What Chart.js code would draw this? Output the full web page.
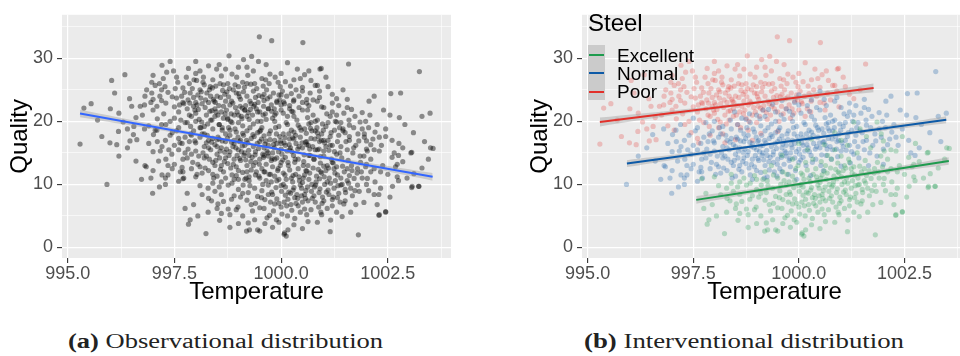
<!DOCTYPE html>
<html>
<head>
<meta charset="utf-8">
<script src="https://cdn.jsdelivr.net/npm/chart.js@4.4.1/dist/chart.umd.min.js"></script>
<style>
  html, body { margin: 0; padding: 0; background: #fff; }
  body { width: 960px; height: 356px; overflow: hidden; position: relative; font-family: "Liberation Sans", Arial, sans-serif; }
  .panel { position: absolute; top: 0; height: 310px; }
  #wrapA { left: 0; width: 470px; }
  #wrapB { left: 520px; width: 451px; }
  .leg { position: absolute; white-space: nowrap; color: #000; }
  .legTitle { left: 588px; top: 11px; font-size: 24px; line-height: 24px; }
  .legKeys { left: 588px; top: 45px; width: 17px; height: 55px; background: #cbcbcb; }
  .legKey { position: absolute; left: 1px; width: 15px; height: 2px; }
  .legLabel { left: 617px; font-size: 19px; line-height: 19px; }
  .caption { position: absolute; top: 331px; font-family: "Liberation Serif", "Times New Roman", serif; font-size: 20px; line-height: 20px; white-space: nowrap; transform-origin: left top; color: #222; }
</style>
</head>
<body>
<div class="panel" id="wrapA"><canvas id="chartA" width="470" height="310"></canvas></div>
<div class="panel" id="wrapB"><canvas id="chartB" width="451" height="310"></canvas></div>

<div class="leg legTitle">Steel</div>
<div class="leg legKeys">
  <div class="legKey" style="top:9px;background:#1E9B4E"></div>
  <div class="legKey" style="top:27px;background:#0D5AA7"></div>
  <div class="legKey" style="top:46px;background:#E2302A"></div>
</div>
<div class="leg legLabel" style="top:46px">Excellent</div>
<div class="leg legLabel" style="top:64px">Normal</div>
<div class="leg legLabel" style="top:82px">Poor</div>

<div class="caption" id="capA" data-w="315" style="left:68px"><b>(a)</b> Observational distribution</div>
<div class="caption" id="capB" data-w="320" style="left:584px"><b>(b)</b> Interventional distribution</div>

<script>
// Axis ticks
const xTicks = [995, 996.25, 997.5, 998.75, 1000, 1001.25, 1002.5, 1003.75];
const xTickLabels = { 995: '995.0', 997.5: '997.5', 1000: '1000.0', 1002.5: '1002.5' };
const yTicks = [0, 5, 10, 15, 20, 25, 30, 35];
const yTickLabels = { 0: '0', 10: '10', 20: '20', 30: '30' };

// Measurements (Temperature, Quality) by steel grade
const poorPts = [
  [995.29,16.4],[995.38,22.1],[995.55,22.8],[995.8,17.6],[995.99,16.6],[996.03,26.5],[996.15,16.3],[996.19,18.4],
  [996.3,19.9],[996.34,27.4],[996.4,18.8],[996.46,16.9],[996.5,22.4],[996.6,20.6],[996.62,17.1],[996.7,22.4],
  [996.81,24.0],[996.85,25.0],[996.9,19.3],[996.97,24.5],[996.97,26.2],[997.0,21.8],[997.05,25.7],[997.09,22.4],
  [997.1,20.4],[997.16,24.0],[997.2,23.3],[997.21,28.9],[997.24,26.8],[997.28,25.5],[997.3,22.9],[997.32,27.8],
  [997.45,18.2],[997.48,28.0],[997.52,25.2],[997.55,23.7],[997.55,27.0],[997.6,21.5],[997.6,17.3],[997.63,16.6],
  [997.67,24.0],[997.7,23.0],[997.7,25.3],[997.75,19.8],[997.8,22.0],[997.83,28.4],[997.85,26.0],[997.85,21.0],
  [997.87,24.5],[997.9,20.8],[997.9,17.8],[997.95,23.8],[997.95,22.4],[998.0,21.3],[998.0,23.0],[998.0,27.6],
  [998.02,26.5],[998.05,24.2],[998.1,19.0],[998.1,25.0],[998.14,19.9],[998.15,22.8],[998.18,27.0],[998.2,25.8],
  [998.2,18.0],[998.25,21.0],[998.26,24.5],[998.3,23.0],[998.3,28.8],[998.34,25.5],[998.35,20.2],[998.35,24.0],
  [998.4,26.6],[998.41,23.5],[998.45,22.0],[998.45,20.8],[998.49,28.3],[998.5,24.0],[998.5,17.1],[998.55,19.5],
  [998.57,26.0],[998.6,21.5],[998.6,27.2],[998.65,25.8],[998.65,22.4],[998.7,23.2],[998.73,24.7],[998.75,20.5],
  [998.75,26.0],[998.78,30.4],[998.8,22.6],[998.8,18.6],[998.85,27.5],[998.88,25.0],[998.9,21.0],[998.95,24.5],
  [998.96,27.0],[999.0,19.8],[999.0,25.5],[999.04,22.4],[999.05,23.5],[999.1,26.2],[999.1,18.1],[999.12,29.8],
  [999.15,21.8],[999.2,24.0],[999.2,26.0],[999.25,20.3],[999.3,22.8],[999.31,30.3],[999.35,28.0],[999.35,24.8],
  [999.4,23.8],[999.43,25.2],[999.47,29.5],[999.49,33.4],[999.5,21.5],[999.55,26.8],[999.59,22.4],[999.6,24.3],
  [999.66,25.0],[999.7,22.0],[999.74,27.5],[999.78,32.8],[999.8,20.5],[999.86,27.0],[999.9,23.2],[999.98,25.5],
  [1000.0,21.8],[1000.1,26.3],[1000.13,24.0],[1000.2,22.0],[1000.29,23.2],[1000.35,25.0],[1000.38,28.3],[1000.45,26.8],
  [1000.5,23.0],[1000.51,32.5],[1000.6,22.9],[1000.68,24.5],[1000.7,26.5],[1000.8,25.7],[1000.85,25.7],[1000.91,28.3],
  [1000.94,28.4],[1000.9,24.8],[1001.1,25.5],[1001.3,23.6],[1001.58,29.1],
  [996.2,21.3],[996.45,23.6],[996.55,19.2],[996.75,21.0],[996.95,23.0],[997.05,18.6],[997.15,26.0],[997.25,21.2],
  [997.35,24.6],[997.4,20.0],[997.5,22.3],[997.58,26.2],[997.65,20.2],[997.72,22.8],[997.78,27.0],[997.82,23.4],
  [997.88,19.2],[997.92,25.2],[997.98,21.8],[998.03,22.6],[998.08,20.3],[998.12,23.7],[998.17,26.2],[998.22,22.2],
  [998.28,19.6],[998.32,25.0],[998.38,21.7],[998.43,23.2],[998.47,25.6],[998.52,21.0],[998.58,23.8],[998.62,19.0],
  [998.68,24.3],[998.72,21.8],[998.77,23.9],[998.82,20.0],[998.87,22.9],[998.92,25.8],[998.97,21.5],[999.02,23.9],
  [999.07,20.8],[999.12,24.7],[999.17,22.5],[999.22,27.3],[999.27,23.2],[999.33,21.0],[999.38,26.0],[999.42,22.0],
  [999.48,24.1],[999.53,20.0],[999.58,25.6],[999.63,21.2],[999.68,23.6],[999.72,26.0],[999.77,22.6],[999.82,24.5],
  [999.88,21.3],[999.93,26.2],[999.97,23.4],[1000.03,24.8],[1000.08,22.8],[1000.15,20.8],[1000.22,25.6],[1000.28,21.5],
  [1000.42,24.0],[1000.55,27.4],[1000.62,21.8],[1000.75,23.4],[1000.95,22.3],[1001.05,27.0],[1001.2,24.3],[1001.45,25.0],
  [997.0,27.3],[997.4,29.5],[998.0,29.5],[998.55,29.0],[999.0,28.6],[999.65,29.0],[1000.15,29.3],[1000.65,28.0],
  [998.25,16.6],[998.9,17.0],[999.5,18.4],[997.3,19.5],[996.1,24.5],[995.7,20.2],[996.0,22.0],
  [997.62,22.6],[997.74,24.6],[997.86,22.9],[997.96,26.6],[998.06,21.9],[998.13,24.7],[998.23,23.4],[998.33,21.6],
  [998.39,25.3],[998.46,23.0],[998.54,22.5],[998.63,24.9],[998.69,21.2],[998.79,25.2],[998.84,23.2],[998.93,22.2],
  [999.01,24.4],[999.09,22.1],[999.14,25.4],[999.23,21.4],[999.29,25.9],[999.36,22.4],[999.46,23.0],[999.56,23.9],
  [999.64,26.6],[999.74,23.9],[999.84,22.0],[999.95,24.2],[1000.06,23.1],[1000.24,24.4],[997.45,23.9],[997.2,25.0],
  [997.0,23.5],[996.8,22.6],[998.1,28.0],[998.7,28.3],[999.2,28.6],[1000.3,26.6],[1000.5,25.4],[1000.0,27.6]
];

const normalPts = [
  [995.92,10.0],[996.54,17.9],[996.73,10.8],[996.81,13.0],[996.84,12.8],[996.99,8.6],[997.01,17.9],[997.09,18.6],
  [997.13,13.7],[997.17,15.3],[997.21,11.5],[997.21,16.0],[997.29,11.0],[997.29,10.0],[997.29,17.0],[997.35,11.5],
  [997.37,15.5],[997.44,14.8],[997.6,15.5],[997.64,12.0],[997.68,16.5],[997.68,12.7],[997.72,11.0],[997.3,14.0],
  [997.4,17.8],[997.5,13.2],[997.55,18.5],[997.6,10.5],[997.7,14.0],[997.75,17.5],[997.45,12.5],[997.0,15.2],
  [996.9,16.5],[997.5,20.5],[997.8,19.8],
  [997.8,14.2],[997.85,16.8],[997.9,12.5],[997.95,18.5],[998.0,15.3],[998.05,13.2],[998.1,17.5],[998.15,11.8],
  [998.2,16.0],[998.2,19.2],[997.9,14.8],[998.0,20.0],[998.1,12.8],
  [998.25,14.5],[998.3,17.0],[998.3,12.2],[998.35,15.5],[998.4,18.8],[998.4,13.5],[998.45,16.3],[998.5,11.3],
  [998.5,14.8],[998.55,19.5],[998.55,17.2],[998.6,13.0],[998.6,15.8],[998.65,20.5],[998.65,12.0],[998.7,16.8],
  [998.7,14.2],[998.7,18.0],
  [998.75,13.3],[998.8,15.2],[998.8,17.8],[998.85,11.5],[998.85,19.8],[998.9,14.0],[998.9,16.5],[998.95,12.8],
  [998.95,18.3],[999.0,15.5],[999.0,21.0],[999.05,13.8],[999.05,17.0],[999.1,11.9],[999.1,19.3],[999.15,15.0],
  [999.15,16.2],[999.2,13.0],[999.2,18.5],[999.2,20.8],
  [999.25,14.6],[999.3,17.3],[999.3,12.3],[999.35,16.0],[999.35,19.6],[999.4,15.2],[999.4,13.5],[999.45,18.2],
  [999.45,21.5],[999.5,14.0],[999.5,16.8],[999.55,12.5],[999.55,19.0],[999.6,15.8],[999.6,17.7],[999.65,13.2],
  [999.65,20.3],[999.7,16.2],[999.7,14.5],[999.7,22.0],
  [999.75,18.5],[999.8,15.0],[999.8,12.8],[999.85,17.0],[999.85,20.0],[999.9,14.2],[999.9,16.5],[999.95,19.2],
  [1000.0,15.6],[1000.0,13.5],[1000.05,18.0],[1000.05,21.3],[1000.1,16.2],[1000.1,14.3],[1000.15,19.5],[1000.2,17.2],
  [1000.2,22.5],[1000.0,24.2],[999.9,23.0],[999.6,23.3],
  [1000.25,15.2],[1000.3,18.3],[1000.3,20.8],[1000.35,16.5],[1000.4,14.0],[1000.4,19.4],[1000.45,17.5],[1000.5,21.8],
  [1000.5,15.8],[1000.55,18.8],[1000.6,16.8],[1000.6,23.5],[1000.65,14.6],[1000.7,19.8],[1000.7,17.3],[1000.75,21.0],
  [1000.8,15.5],[1000.8,18.5],[1000.5,24.8],[1000.3,23.4],
  [1000.85,20.2],[1000.9,16.8],[1000.95,18.0],[1001.0,22.2],[1001.0,15.3],[1001.05,19.2],[1001.1,17.0],[1001.15,20.8],
  [1001.2,16.2],[1001.25,18.6],[1001.3,14.8],[1001.3,21.0],[1001.35,17.8],[1001.4,19.8],[1001.4,16.0],
  [1001.5,18.2],[1001.55,15.5],[1001.6,17.0],[1001.7,19.0],[1001.75,16.2],[1001.8,18.0],[1001.85,14.5],[1001.95,17.5],
  [1002.05,19.0],[1002.1,16.3],[1002.2,18.3],
  [1003.24,27.9],[1002.57,24.4],[1003.49,21.3],[1003.36,16.8],[1002.8,24.5],[1000.85,23.2],[1001.55,23.5],[1001.55,22.2],
  [1001.65,21.9],[1001.9,21.4],[1002.06,23.2],[1002.18,24.0],[1001.98,20.0],[1002.77,20.6],[1001.59,20.2],[1002.65,15.0],
  [1002.75,14.6],[1002.85,15.8],[1001.2,21.5],[1001.35,22.5],[1002.4,21.8],[1002.3,17.5],
  [997.82,15.6],[997.88,18.0],[997.93,13.5],[997.98,16.9],[998.03,11.6],[998.07,14.5],[998.12,19.0],[998.17,15.0],
  [998.22,12.6],[998.27,17.8],[998.32,14.0],[998.37,16.7],[998.42,11.0],[998.38,20.2],
  [998.47,13.8],[998.52,17.5],[998.57,15.3],[998.62,18.6],[998.67,13.6],[998.72,15.6],[998.77,19.0],[998.82,12.6],
  [998.87,16.0],[998.92,18.8],[998.97,14.6],[999.02,16.8],[998.58,12.4],[998.83,21.2],[998.48,21.5],[998.9,10.8],
  [999.07,15.2],[999.12,17.8],[999.17,13.9],[999.22,16.6],[999.27,19.0],[999.32,14.3],[999.37,17.6],[999.42,12.0],
  [999.47,15.7],[999.52,18.6],[999.57,14.8],[999.62,16.4],[999.08,20.4],[999.28,21.9],[999.48,11.3],[999.58,21.0],
  [999.18,11.0],[999.38,22.7],
  [999.67,15.3],[999.72,18.0],[999.77,13.8],[999.82,16.3],[999.87,19.0],[999.92,12.2],[999.97,17.6],[1000.02,14.8],
  [1000.07,16.6],[1000.12,19.8],[1000.17,13.0],[1000.22,15.8],[999.78,21.6],[1000.0,22.6],[999.95,10.8],[1000.18,18.0],
  [999.75,11.6],
  [1000.27,17.4],[1000.32,13.5],[1000.37,20.2],[1000.42,16.0],[1000.47,18.6],[1000.52,13.0],[1000.57,16.7],[1000.62,20.6],
  [1000.67,15.6],[1000.72,18.5],[1000.77,14.0],[1000.42,22.2],[1000.65,22.5],[1000.28,11.4],[1000.58,12.2],[1000.8,20.0],
  [1000.87,17.6],[1000.92,14.4],[1000.97,19.6],[1001.02,16.6],[1001.07,21.2],[1001.12,15.4],[1001.17,18.2],[1001.22,13.4],
  [1001.27,20.0],[1001.32,16.8],[1001.37,19.0],[1001.42,14.2],[1001.47,21.3],[1000.9,23.8],[1001.2,22.9],[1001.0,12.9],
  [1001.52,16.8],[1001.6,19.4],[1001.68,15.0],[1001.73,20.8],[1001.82,16.9],[1001.9,18.8],[1002.0,15.6],[1002.08,21.0],
  [1002.15,17.2],[1002.25,19.5],[1002.35,16.2],[1002.45,18.8],[1002.55,21.0],[1002.6,17.0],[1002.9,19.5],[1003.1,18.2],
  [1003.3,20.8],[1002.0,13.2],[1001.65,13.0],
  [996.2,14.5],[996.4,15.8],[996.6,13.7],[996.8,18.8],[997.0,12.2],[997.1,16.8],[997.2,19.5],[997.35,13.0],
  [997.5,16.2],[997.6,19.0],[997.7,12.0],[997.75,15.0],[996.95,11.0],[997.15,9.6],
  [998.5,16.0],[998.56,14.2],[998.62,16.9],[998.68,15.1],[998.74,17.3],[998.78,14.6],[998.84,16.7],[998.88,13.2],
  [998.94,15.8],[998.99,17.5],[999.03,14.1],[999.09,16.1],[999.13,14.6],[999.19,17.0],[999.24,15.4],[999.29,13.6],
  [999.34,17.9],[999.39,14.7],[999.44,16.5],[999.49,13.2],[999.54,17.2],[999.59,14.3],[999.64,16.9],[999.69,15.0],
  [999.74,17.1],[999.79,14.1],[999.84,15.8],[999.89,18.0],[999.94,15.2],[999.99,16.9],[1000.04,13.9],[1000.09,17.4],
  [1000.14,15.3],[1000.19,16.3],[1000.24,18.6],[1000.29,14.6],[1000.34,17.8],[1000.39,15.6],[1000.44,19.0],[1000.49,16.6],
  [1000.54,14.7],[1000.59,18.1],[1000.64,16.2],[1000.69,18.9],[1000.74,16.0],[1000.79,17.2],[1000.84,19.0],[1000.89,15.6],
  [1000.94,17.0],[1000.99,18.6],[998.2,14.2],[998.3,15.8],[998.4,17.3],[998.15,18.0],[998.0,16.6],[998.45,13.0],
  [999.0,12.2],[999.25,11.2],[999.6,12.0],[998.75,20.3],[999.15,21.8],[999.45,20.0],[999.85,21.0],[1000.25,21.6],
  [1001.05,16.0],[1001.15,17.6],[1001.25,15.2],[1001.45,18.5],[1001.1,19.8],[1000.65,19.6]
];

const excellentPts = [
  [997.83,3.7],[997.87,4.4],[998.24,2.2],[999.19,2.6],[999.45,2.8],[1000.07,2.1],[1000.12,1.8],[1001.15,2.5],
  [1001.81,2.0],[1002.3,5.2],[1002.45,5.7],[1002.75,10.6],[1003.06,9.5],[1003.22,9.7],[1003.06,15.1],[1003.56,15.7],
  [998.29,5.6],[998.37,7.4],[998.52,6.9],[998.6,5.4],[998.56,4.3],[998.76,6.1],[998.99,6.4],[999.23,3.9],
  [999.26,2.8],[999.38,4.4],[999.5,2.6],[999.62,3.8],[999.73,5.1],[999.89,4.4],[1000.0,6.4],[1000.08,2.3],
  [1000.16,2.8],[1000.32,4.6],[1000.63,4.1],
  [998.29,9.4],[998.45,8.9],[998.6,8.4],[998.76,9.9],[998.84,7.65],[999.0,9.2],[999.11,9.9],[999.23,8.7],
  [999.38,9.4],[999.54,7.9],[999.7,8.4],[999.85,6.9],[1000.01,8.9],[1000.16,7.65],[1000.32,7.9],[1000.4,6.6],
  [1000.48,9.4],[1000.55,8.4],[1000.63,7.4],[1000.71,8.9],[999.77,10.4],[1000.09,11.5],[1000.24,11.0],[999.93,12.5],
  [999.62,12.0],[1000.4,12.5],[1000.55,11.5],[1000.63,13.0],[1000.16,13.5],[999.85,14.0],
  [1000.85,15.5],[1001.0,14.5],[1001.08,13.0],[1000.93,12.0],[1000.81,9.9],[1000.89,8.7],[1001.0,7.4],[1001.12,8.4],
  [1001.24,9.4],[1001.32,7.9],[1001.4,9.9],[1001.51,8.7],[1001.63,9.4],[1001.71,10.95],[1001.79,12.5],[1001.86,13.5],
  [1001.94,14.5],[1002.02,15.3],[1002.18,15.5],[1002.33,12.0],[1002.18,8.4],[1002.29,8.4],[1002.33,9.4],[1001.94,7.15],
  [1001.47,6.9],[1001.43,4.9],[1001.63,5.6],[1000.93,5.6],[1001.16,4.35],[1002.29,5.1],[1002.45,5.6],[1002.61,9.7],
  [1002.72,11.2],[1003.11,11.7],[1003.07,9.7],[1003.23,9.7],[1003.04,15.0],[1002.76,16.5],[1003.5,15.8],[1002.72,13.2],
  [1002.18,12.5],[1001.24,12.5],[1001.32,11.5],[1001.08,10.4],[1001.55,12.5],[1001.79,9.9],[1002.02,10.95],[1000.77,14.0],
  [1001.3,19.9],[1001.85,19.9],[1001.6,17.6],[1002.0,16.9],[1002.3,15.3],[1002.6,14.3],[1001.0,17.0],[1000.6,16.3],
  [1000.2,15.5],[999.5,11.0],[999.2,12.0],[999.0,10.8],[998.6,10.4],[998.0,11.2],[997.8,8.6],[997.95,6.8],
  [998.1,9.8],[997.7,10.9],[998.4,11.6],[999.7,9.9],[1000.3,9.5],[1000.5,10.3],[1000.9,10.9],[1000.7,6.0],
  [1000.95,11.8],[1000.45,5.6],[1000.25,5.9],[999.9,7.7],[999.3,6.8],[999.6,6.2],[1000.1,8.3],[1000.35,7.0],
  [1000.8,7.2],[1001.1,9.1],[1001.4,11.0],[1001.55,10.6],[1000.05,10.0],[999.85,11.3],[1000.6,12.1],[1001.2,13.5],
  [998.3,7.8],[998.4,10.2],[998.5,6.2],[998.55,9.6],[998.65,7.3],[998.7,11.0],[998.8,5.2],[998.85,10.2],
  [998.9,8.2],[998.95,6.0],[999.05,8.0],[999.1,5.0],[999.15,10.8],[999.2,7.5],[999.27,9.8],[999.33,5.8],
  [999.4,11.5],[999.45,8.1],[999.5,6.3],[999.57,10.0],[999.62,7.6],[999.67,4.7],[999.72,11.6],[999.78,8.8],
  [999.82,5.8],[999.88,9.5],[999.95,7.0],[999.98,13.0],[1000.02,5.3],[1000.05,11.8],[1000.1,9.6],[1000.13,6.6],
  [1000.2,12.3],[1000.22,8.6],[1000.27,10.4],[1000.3,3.6],[1000.33,14.0],[1000.37,8.4],[1000.42,11.2],[1000.45,9.9],
  [1000.5,7.2],[1000.53,13.6],[1000.58,9.0],[1000.6,5.2],[1000.65,10.8],[1000.68,14.6],[1000.73,7.8],[1000.75,12.6],
  [1000.78,9.6],[1000.83,11.3],[1000.88,6.4],[1000.92,13.4],[1000.97,8.0],[1001.02,10.0],[1001.05,12.2],[1001.08,6.2],
  [1001.13,11.0],[1001.18,14.0],[1001.2,7.6],[1001.27,10.6],[1001.3,12.8],[1001.35,8.6],[1001.38,15.0],[1001.43,10.0],
  [1001.48,12.0],[1001.5,7.4],[1001.57,13.8],[1001.6,11.4],[1001.67,8.2],[1001.7,15.8],[1001.75,6.8],[1001.78,11.8],
  [1001.83,8.9],[1001.9,11.0],[1001.98,12.8],[1002.05,9.0],[1002.1,14.0],[1002.2,10.4],[1002.25,6.8],[1002.38,13.0],
  [1002.5,11.6],[1002.55,8.0],[1002.68,12.8],[1002.85,13.6],[1002.95,11.0],[1003.3,12.6],[1003.45,14.0],[999.0,3.8],
  [998.8,3.2],[999.8,3.2],[1000.5,3.0],[1000.85,4.0],[1001.3,5.6],[997.75,6.2],[998.05,5.0],[998.15,8.4],
  [999.35,13.0],[999.6,14.6],[1000.0,16.5],[1000.3,17.2],[1000.85,18.2],[1001.15,16.2],[1001.45,18.8],[1001.95,18.0],
  [1002.45,17.6],
  [1000.0,9.8],[1000.07,7.2],[1000.12,10.8],[1000.18,8.8],[1000.23,6.8],[1000.28,9.1],[1000.34,11.6],[1000.39,7.8],
  [1000.43,10.6],[1000.48,8.2],[1000.52,11.0],[1000.57,7.8],[1000.62,9.6],[1000.67,11.8],[1000.72,10.0],[1000.77,8.2],
  [1000.82,10.4],[1000.87,12.4],[1000.91,9.3],[1000.96,7.0],[1001.01,11.2],[1001.06,8.8],[1001.11,12.6],[1001.16,10.2],
  [1001.22,8.0],[1001.26,11.8],[1001.33,9.8],[1001.38,7.2],[1001.44,12.9],[1001.5,9.2],[1001.58,10.2],[1001.66,12.2],
  [1001.73,9.0],[1001.88,12.0],[1002.0,10.0],[1002.1,12.0],[999.55,9.0],[999.65,10.6],[999.8,8.4],[999.9,10.6],
  [999.75,7.2],[999.4,7.0],[999.1,8.6],[999.25,10.6],[998.95,11.4],[1000.15,5.0],[1000.55,6.1],[1000.95,5.2],
  [1001.2,6.6],[999.95,4.0]
];

// Fitted lines with confidence bands
const fitAllX   = [995.29, 997.4, 999.4, 1001.5, 1003.55];
const fitAllY   = [21.25, 18.68, 16.25, 13.69, 11.2];
const fitAllLo  = [20.65, 18.33, 16.05, 13.34, 10.6];
const fitAllHi  = [21.85, 19.03, 16.45, 14.04, 11.8];

const fitPoorX  = [995.29, 996.9, 998.5, 1000.1, 1001.77];
const fitPoorY  = [19.9, 21.24, 22.57, 23.9, 25.3];
const fitPoorLo = [19.2, 20.84, 22.32, 23.5, 24.6];
const fitPoorHi = [20.6, 21.64, 22.82, 24.3, 26.0];

const fitNormX  = [995.93, 997.8, 999.7, 1001.6, 1003.49];
const fitNormY  = [13.3, 15.02, 16.77, 18.51, 20.25];
const fitNormLo = [12.75, 14.72, 16.57, 18.21, 19.7];
const fitNormHi = [13.85, 15.32, 16.97, 18.81, 20.8];

const fitExcX   = [997.57, 999.1, 1000.55, 1002.05, 1003.55];
const fitExcY   = [7.55, 9.12, 10.61, 12.16, 13.7];
const fitExcLo  = [6.95, 8.77, 10.36, 11.81, 13.1];
const fitExcHi  = [8.15, 9.47, 10.86, 12.51, 14.3];

const FONT = '"Liberation Sans", Arial, sans-serif';
const toXY = pts => pts.map(([x, y]) => ({ x, y }));
const zip = (xs, ys) => xs.map((x, i) => ({ x, y: ys[i] }));

const panelBg = {
  id: 'panelBg',
  beforeDraw(chart) {
    const { ctx, chartArea: a } = chart;
    ctx.save();
    ctx.fillStyle = '#EBEBEB';
    ctx.fillRect(a.left, a.top, a.right - a.left, a.bottom - a.top);
    ctx.restore();
  }
};

function scales(xMin, xMax) {
  const gridFor = labels => ({
    color: '#FFFFFF',
    lineWidth: c => (c.tick && labels[c.tick.value] !== undefined) ? 1.2 : 0.6,
    tickLength: 5,
    tickWidth: 1.1,
    tickColor: c => (c.tick && labels[c.tick.value] !== undefined) ? '#333333' : 'rgba(0,0,0,0)'
  });
  return {
    x: {
      type: 'linear', min: xMin, max: xMax,
      afterBuildTicks: s => { s.ticks = xTicks.map(v => ({ value: v })); },
      afterFit: s => { s.height = 52; },
      grid: gridFor(xTickLabels),
      border: { display: false },
      ticks: {
        autoSkip: false, maxRotation: 0, padding: 0, color: '#4D4D4D',
        font: { family: FONT, size: 18 },
        callback: v => xTickLabels[v] !== undefined ? xTickLabels[v] : ''
      },
      title: { display: true, text: 'Temperature', color: '#000', font: { family: FONT, size: 24 }, padding: { top: 0, bottom: 3 } }
    },
    y: {
      type: 'linear', min: -1.67, max: 36.9,
      afterBuildTicks: s => { s.ticks = yTicks.map(v => ({ value: v })); },
      afterFit: s => { s.width = 62; },
      grid: gridFor(yTickLabels),
      border: { display: false },
      ticks: {
        autoSkip: false, padding: 4, color: '#4D4D4D',
        font: { family: FONT, size: 18 },
        callback: v => yTickLabels[v] !== undefined ? yTickLabels[v] : ''
      },
      title: { display: true, text: 'Quality', color: '#000', font: { family: FONT, size: 24 }, padding: { top: 6, bottom: 0 } }
    }
  };
}

function fitSets(xs, ys, lo, hi, color) {
  return [
    { type: 'line', data: zip(xs, ys), borderColor: color, borderWidth: 2, pointRadius: 0, fill: false, order: 0 },
    { type: 'line', data: zip(xs, hi), borderWidth: 0, borderColor: 'rgba(0,0,0,0)', pointRadius: 0, tension: 0.4,
      fill: '+1', backgroundColor: 'rgba(153,153,153,0.4)', order: 1 },
    { type: 'line', data: zip(xs, lo), borderWidth: 0, borderColor: 'rgba(0,0,0,0)', pointRadius: 0, tension: 0.4,
      fill: false, order: 1 }
  ];
}

function pointSet(pts, color) {
  return { type: 'scatter', data: toXY(pts), backgroundColor: color, borderWidth: 0, pointRadius: 2.6, order: 2 };
}

const common = (padRight, xMax) => ({
  responsive: false,
  animation: false,
  events: [],
  layout: { padding: { top: 5, right: padRight, bottom: 0, left: 0 } },
  plugins: { legend: { display: false }, tooltip: { enabled: false } },
  scales: scales(994.867, xMax)
});

new Chart(document.getElementById('chartA'), {
  type: 'scatter',
  data: {
    datasets: [
      ...fitSets(fitAllX, fitAllY, fitAllLo, fitAllHi, '#3366FF'),
      pointSet([...excellentPts, ...normalPts, ...poorPts], 'rgba(0,0,0,0.42)')
    ]
  },
  options: common(19, 1003.98),
  plugins: [panelBg]
});

new Chart(document.getElementById('chartB'), {
  type: 'scatter',
  data: {
    datasets: [
      ...fitSets(fitExcX, fitExcY, fitExcLo, fitExcHi, '#1E9B4E'),
      ...fitSets(fitNormX, fitNormY, fitNormLo, fitNormHi, '#0D5AA7'),
      ...fitSets(fitPoorX, fitPoorY, fitPoorLo, fitPoorHi, '#E2302A'),
      pointSet(excellentPts, 'rgba(30,155,78,0.28)'),
      pointSet(normalPts, 'rgba(13,90,167,0.28)'),
      pointSet(poorPts, 'rgba(226,48,42,0.25)')
    ]
  },
  options: common(0, 1003.98),
  plugins: [panelBg]
});

// Stretch each caption to its set width
document.querySelectorAll('.caption').forEach(el => {
  const w = el.getBoundingClientRect().width;
  el.style.transform = 'scaleX(' + (Number(el.dataset.w) / w) + ')';
});
</script>
</body>
</html>
